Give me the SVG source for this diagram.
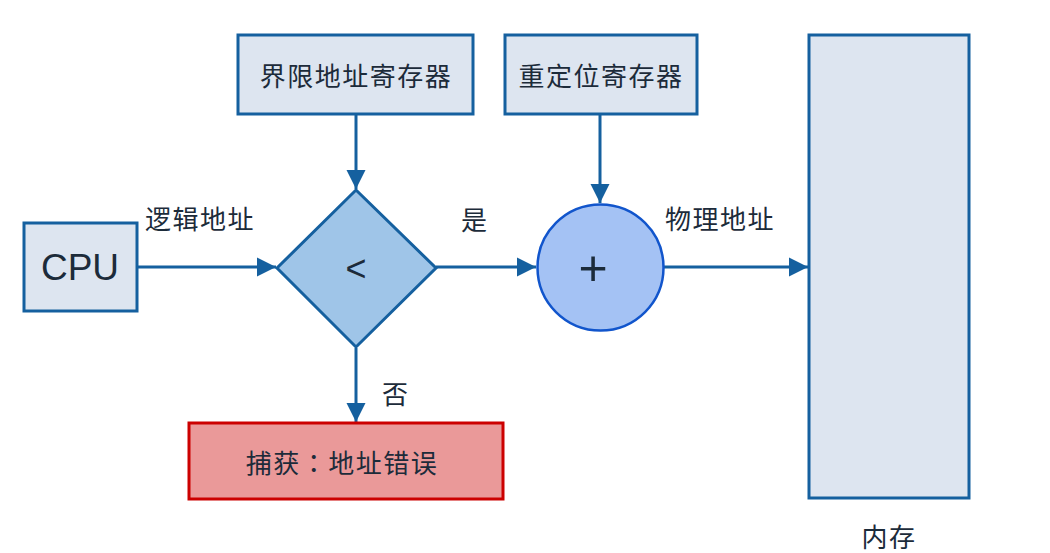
<svg xmlns="http://www.w3.org/2000/svg" width="1050" height="553" viewBox="0 0 1050 553">
<style>
.box{fill:#dde5f0;stroke:#15609f;stroke-width:3}
.t{font-family:"Noto Sans CJK SC","Liberation Sans",sans-serif;font-size:26px;fill:#1c2b3a;letter-spacing:1.5px}
.c{text-anchor:middle;dominant-baseline:central}
.ln{stroke:#15609f;stroke-width:3;fill:none}
</style>
<defs>
<marker id="ah" viewBox="0 0 10 10" refX="10" refY="5" markerWidth="6.5" markerHeight="6.5" markerUnits="strokeWidth" orient="auto">
<path d="M0,0 L10,5 L0,10 Z" fill="#15609f"/>
</marker>
</defs>
<rect width="1050" height="553" fill="#ffffff"/>
<g id="connectors">
<line class="ln" x1="137" y1="267" x2="276" y2="267" marker-end="url(#ah)"/>
<line class="ln" x1="356" y1="114" x2="356" y2="189" marker-end="url(#ah)"/>
<line class="ln" x1="436" y1="267" x2="536" y2="267" marker-end="url(#ah)"/>
<line class="ln" x1="600" y1="114" x2="600" y2="203" marker-end="url(#ah)"/>
<line class="ln" x1="664" y1="267" x2="808" y2="267" marker-end="url(#ah)"/>
<line class="ln" x1="356" y1="348" x2="356" y2="422" marker-end="url(#ah)"/>
<text class="t" x="145" y="229">逻辑地址</text>
<text class="t" x="461" y="230">是</text>
<text class="t" x="665" y="229">物理地址</text>
<text class="t" x="382" y="404">否</text>
</g>
<g id="cpu">
<rect class="box" x="24" y="223" width="113" height="88"/>
<text class="c" x="80" y="267" font-family="Liberation Sans, sans-serif" font-size="37" fill="#1c2b3a">CPU</text>
</g>
<g id="limit">
<rect class="box" x="238" y="35" width="235" height="79"/>
<text class="t c" x="356" y="74">界限地址寄存器</text>
</g>
<g id="reloc">
<rect class="box" x="505" y="35" width="192" height="79"/>
<text class="t c" x="601" y="74">重定位寄存器</text>
</g>
<g id="compare">
<polygon points="356,190 436,268 356,347 277,268" fill="#9fc5e8" stroke="#15609f" stroke-width="3"/>
<text class="c" x="356" y="268" font-family="Liberation Sans, sans-serif" font-size="36" fill="#1c2b3a">&lt;</text>
</g>
<g id="adder">
<circle cx="600.5" cy="267.5" r="63" fill="#a4c2f4" stroke="#1155cc" stroke-width="2.5"/>
<text class="c" x="593" y="268" font-family="Liberation Sans, sans-serif" font-size="50" fill="#1c2b3a">+</text>
</g>
<g id="memory">
<rect class="box" x="809" y="35" width="160" height="463"/>
<text class="t c" x="889" y="535">内存</text>
</g>
<g id="trap">
<rect x="189" y="423" width="314" height="76" fill="#ea9999" stroke="#cc0000" stroke-width="3"/>
<text class="t c" x="342" y="461" style="font-family:'Noto Sans CJK TC','Noto Sans CJK SC',sans-serif">捕获：地址错误</text>
</g>
</svg>
